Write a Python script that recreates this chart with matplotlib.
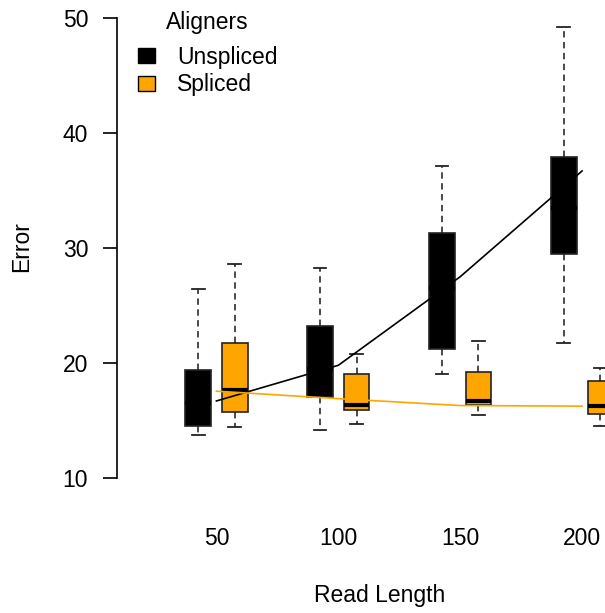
import numpy as np
import matplotlib.pyplot as plt
from matplotlib.patches import Patch

plt.rcParams['font.family'] = ['Liberation Sans', 'DejaVu Sans']

read_lengths = ['50', '100', '150', '200']

# Unspliced aligners
uns_lo = [13.7, 14.2, 19.0, 21.7]
uns_q1 = [14.5, 17.0, 21.2, 29.5]
uns_med = [16.5, 19.5, 26.5, 33.5]
uns_q3 = [19.4, 23.2, 31.3, 37.9]
uns_hi = [26.4, 28.3, 37.1, 49.2]
uns_mean = [16.7, 19.8, 27.5, 36.7]

# Spliced aligners
spl_lo = [14.4, 14.7, 15.5, 14.55]
spl_q1 = [15.7, 15.9, 16.35, 15.6]
spl_med = [17.65, 16.35, 16.7, 16.25]
spl_q3 = [21.7, 19.0, 19.2, 18.45]
spl_hi = [28.6, 20.75, 21.9, 19.55]
spl_mean = [17.55, 16.9, 16.3, 16.25]


def make_stats(lo, q1, med, q3, hi):
    return [dict(whislo=a, q1=b, med=c, q3=d, whishi=e, fliers=[])
            for a, b, c, d, e in zip(lo, q1, med, q3, hi)]


fs = 16.5
fig = plt.figure(figsize=(6.05, 6.13), dpi=100)
ax = fig.add_axes([117 / 605, 113 / 613, 526 / 605, 500 / 613])

x = np.arange(1, len(read_lengths) + 1)
common = dict(widths=0.21, patch_artist=True, showfliers=False, manage_ticks=False,
              capwidths=0.105,
              whiskerprops=dict(color='#222222', linestyle=(0, (4, 2.8)), linewidth=1.15),
              capprops=dict(color='#222222', linewidth=1.3),
              medianprops=dict(color='black', linewidth=3))

ax.bxp(make_stats(uns_lo, uns_q1, uns_med, uns_q3, uns_hi), positions=x - 0.15,
       boxprops=dict(facecolor='black', edgecolor='#222222', linewidth=1.2), **common)
ax.bxp(make_stats(spl_lo, spl_q1, spl_med, spl_q3, spl_hi), positions=x + 0.15,
       boxprops=dict(facecolor='#FFA500', edgecolor='#222222', linewidth=1.2), **common)

ax.plot(x, uns_mean, color='black', linewidth=1.2, zorder=4)
ax.plot(x, spl_mean, color='#FFA500', linewidth=1.2, zorder=4)

ax.set_xlim(0.184, 4.5)
ax.set_ylim(8.087, 51.565)
ax.set_yticks([10, 20, 30, 40, 50])
ax.set_xticks(x)
ax.set_xticklabels(read_lengths)

for side in ['top', 'right', 'bottom']:
    ax.spines[side].set_visible(False)
ax.spines['left'].set_bounds(10, 50)
ax.spines['left'].set_linewidth(1.2)
ax.tick_params(axis='y', length=10, width=1.2, pad=10.8, labelsize=fs)
ax.tick_params(axis='x', length=0, pad=19.5, labelsize=fs)

fig.text(380 / 605, 1 - 602 / 613, 'Read Length', ha='center', va='baseline', fontsize=fs)
fig.text(28 / 605, 1 - 247 / 613, 'Error', rotation=90, rotation_mode='anchor',
         ha='center', va='baseline', fontsize=fs)

handles = [Patch(facecolor='black', edgecolor='black'),
           Patch(facecolor='#FFA500', edgecolor='black')]
leg = ax.legend(handles, ['Unspliced', 'Spliced'], title='Aligners',
                loc='upper left', bbox_to_anchor=(138 / 605, 1 - 11 / 613),
                bbox_transform=fig.transFigure, frameon=False, fontsize=fs,
                title_fontsize=fs, handlelength=0.74, handleheight=0.61,
                handletextpad=0.96, labelspacing=0.2, borderpad=0, borderaxespad=0)
leg._legend_box.sep = 8.5

fig.savefig('out.png', dpi=100)
